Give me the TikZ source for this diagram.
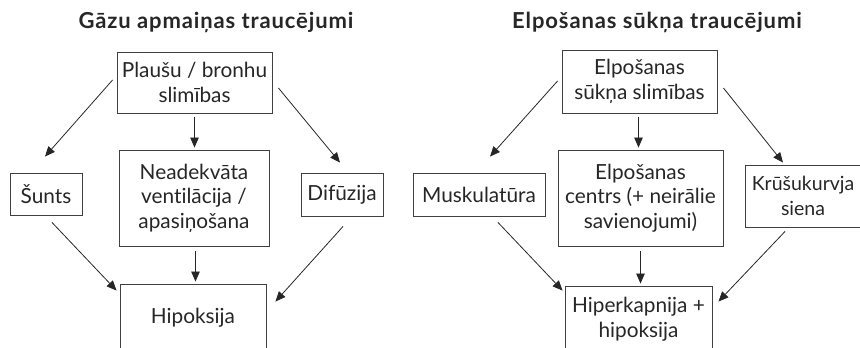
\documentclass[tikz,border=0pt]{standalone}
\usepackage{fontspec}
\setmainfont{Lato}[Ligatures=NoCommon]
\newfontfamily\headfont{Lato Bold}[Ligatures=NoCommon, LetterSpace=4]
\usetikzlibrary{arrows.meta}
\begin{document}
\begin{tikzpicture}[x=1pt,y=-1pt,
  box/.style={draw=black!75, line width=0.9pt, inner sep=0pt, align=center,
    font=\fontsize{20.8}{24.5}\selectfont, text=black!85},
  arr/.style={draw=black!85, line width=0.8pt, -{Triangle[length=10pt,width=8.5pt]}},
  title/.style={font=\headfont\fontsize{22}{24}\selectfont, text=black!85, anchor=base}]
\clip (0,0) rectangle (860,348);

% ---------- gas exchange ----------
\node[title] (t1) at (216,28) {Gāzu apmaiņas traucējumi};
\node[box, minimum width=155pt, minimum height=61pt] (plausu) at (194.5,82.5) {Plaušu / bronhu\\slimības};
\node[box, minimum width=72pt, minimum height=42pt] (sunts) at (46,194) {Šunts};
\node[box, minimum width=150pt, minimum height=96pt] (neadek) at (194,198) {Neadekvāta\\ventilācija /\\apasiņošana};
\node[box, minimum width=82pt, minimum height=43pt] (difuzija) at (342,194.5) {Difūzija};
\node[box, minimum width=146pt, minimum height=68pt] (hipoksija) at (193,318) {Hipoksija};

\draw[arr] ([shift={(-4,-2.5)}]plausu.west) -- ([shift={(-1,-16)}]sunts.north);
\draw[arr, shorten <=4pt, shorten >=2pt] (plausu.south) -- (plausu.south |- neadek.north);
\draw[arr] ([shift={(6,5.5)}]plausu.east) -- ([shift={(-2,-10)}]difuzija.north);
\draw[arr] ([shift={(6,7)}]sunts.south) -- ([shift={(-3,7)}]hipoksija.north west);
\draw[arr, shorten <=5pt, shorten >=2pt] ([xshift=1.5pt]neadek.south) -- ([xshift=1.5pt]neadek.south |- hipoksija.north);
\draw[arr] ([shift={(1,10)}]difuzija.south) -- ([shift={(9,18)}]hipoksija.north east);

% ---------- respiratory pump ----------
\node[title] (t2) at (657,28) {Elpošanas sūkņa traucējumi};
\node[box, minimum width=155pt, minimum height=63pt] (elpos) at (639.5,81.5) {Elpošanas\\sūkņa slimības};
\node[box, minimum width=132pt, minimum height=43pt] (musk) at (479,194.5) {Muskulatūra};
\node[box, minimum width=165pt, minimum height=96pt] (centrs) at (640.5,198) {Elpošanas\\centrs (+ neirālie\\savienojumi)};
\node[box, minimum width=116pt, minimum height=62pt, font=\fontsize{19.5}{24.5}\selectfont] (krusu) at (803,196) {Krūšukurvja\\siena};
\node[box, minimum width=147pt, minimum height=66pt] (hiper) at (638.5,319) {Hiperkapnija +\\hipoksija};

\draw[arr] ([shift={(-4,-0.5)}]elpos.west) -- ([shift={(11,-16)}]musk.north);
\draw[arr, shorten <=4pt, shorten >=2pt] ([xshift=-1pt]elpos.south) -- ([xshift=-1pt]elpos.south |- centrs.north);
\draw[arr] ([shift={(6,6.5)}]elpos.east) -- ([shift={(-20,-2)}]krusu.north);
\draw[arr] ([shift={(19,6)}]musk.south) -- ([shift={(-2,5)}]hiper.north west);
\draw[arr, shorten <=5pt, shorten >=2pt] (centrs.south) -- (centrs.south |- hiper.north);
\draw[arr] ([shift={(-18,4)}]krusu.south) -- ([shift={(6,16)}]hiper.north east);
\end{tikzpicture}
\end{document}
